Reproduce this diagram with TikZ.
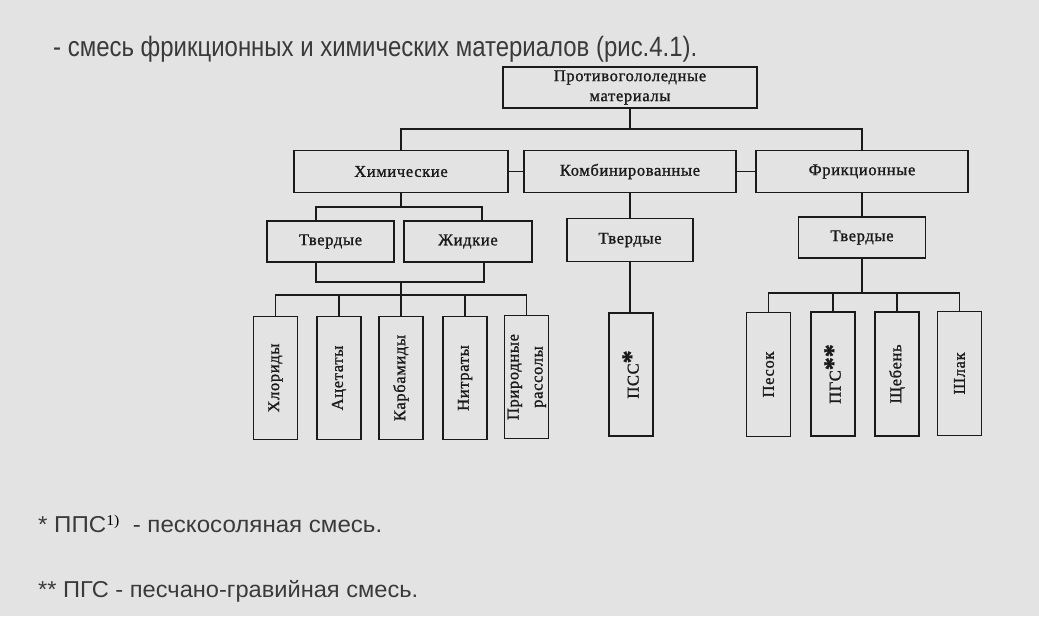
\documentclass[tikz,border=0pt]{standalone}
\usepackage{fontspec}
\setmainfont{Liberation Serif}
\newfontfamily\sansfam{Liberation Sans}
\newfontfamily\diagfam[LetterSpace=4,FakeBold=1.2]{Liberation Serif}
\newcommand\diagfont{\diagfam\fontsize{16.5}{20}\selectfont}
\newcommand\bigast{\raisebox{-1pt}{\fontsize{26}{26}\selectfont\bfseries *}}
\definecolor{bg}{HTML}{E3E3E3}
\definecolor{txt}{HTML}{3A3A3A}
\definecolor{ink}{HTML}{1A1A1A}
\begin{document}
\begin{tikzpicture}[x=1pt,y=-1pt,
  box/.style={draw=ink, line width=1.4pt, inner sep=0pt, text=ink, font=\diagfont, align=center},
  leaf/.style={box, minimum width=44pt, minimum height=123pt},
  link/.style={draw=ink, line width=1.3pt},
  prose/.style={inner sep=0pt, text=txt, anchor=base west}
]
\fill[bg] (0,0) rectangle (1039,616);
\useasboundingbox (0,0) rectangle (1039,616);

% prose
\node[prose] (intro) at (53,56) {\resizebox{644pt}{\height}{\sansfam\fontsize{28}{30}\selectfont - смесь фрикционных и химических материалов (рис.4.1).}};
\node[prose] (note1) at (38,532) {\resizebox{344pt}{\height}{\sansfam\fontsize{23}{26}\selectfont * ППС\raisebox{7pt}{\rmfamily\fontsize{15}{15}\selectfont\color{black}1)}\ \ - пескосоляная смесь.}};
\node[prose] (note2) at (38,597) {\resizebox{380pt}{\height}{\sansfam\fontsize{23}{26}\selectfont ** ПГС - песчано-гравийная смесь.}};

% level 1
\node[box, minimum width=254pt, minimum height=41pt] (top) at (630,87.5) {Противогололедные\\материалы};
% level 2
\node[box, minimum width=214pt, minimum height=42pt] (chem) at (401,171.5) {Химические};
\node[box, minimum width=212pt, minimum height=42pt] (comb) at (630,171.5) {Комбинированные};
\node[box, minimum width=212pt, minimum height=42pt] (fric) at (862,171.5) {Фрикционные};
% level 3
\node[box, minimum width=127pt, minimum height=41pt] (tv1) at (330.5,241.5) {Твердые};
\node[box, minimum width=128pt, minimum height=41pt] (liq) at (468,241.5) {Жидкие};
\node[box, minimum width=126pt, minimum height=43pt] (tv2) at (630,240) {Твердые};
\node[box, minimum width=127pt, minimum height=41pt] (tv3) at (862,237.5) {Твердые};
% leaves
\node[leaf] (l1) at (275.5,378) {\rotatebox{90}{Хлориды}};
\node[leaf] (l2) at (339,378) {\rotatebox{90}{Ацетаты}};
\node[leaf] (l3) at (401,378) {\rotatebox{90}{Карбамиды}};
\node[leaf] (l4) at (465,378) {\rotatebox{90}{Нитраты}};
\node[leaf, minimum width=42pt] (l5) at (526.5,377) {\rotatebox{90}{\begin{tabular}{@{}c@{}}Природные\\[4pt]рассолы\end{tabular}}};
\node[leaf] (psc) at (631,374.5) {\rotatebox{90}{ПСС\bigast}};
\node[leaf, minimum height=124pt] (r1) at (768.5,374.5) {\rotatebox{90}{Песок}};
\node[leaf, minimum height=124pt] (r2) at (833,374) {\rotatebox{90}{ПГС\bigast\bigast}};
\node[leaf, minimum height=124pt] (r3) at (897,374) {\rotatebox{90}{Щебень}};
\node[leaf, minimum height=124pt] (r4) at (959.5,373.5) {\rotatebox{90}{Шлак}};

% bus coordinates
\coordinate (tb) at (630,129);
\coordinate (cb) at (401,207);
\coordinate (cb2) at (401,282);
\coordinate (lb) at (401,295);
\coordinate (rb) at (862,293);

% connectors
\draw[link] (top.south) -- (tb);
\draw[link] (chem.north) |- (tb) -| (fric.north);
\draw[link] (chem.east) -- (comb.west);
\draw[link] (comb.east) -- (fric.west);

\draw[link] (chem.south) -- (cb);
\draw[link] ([xshift=-14.5pt]tv1.north) |- (cb) -| ([xshift=14pt]liq.north);
\draw[link] ([xshift=-14.5pt]tv1.south) |- (cb2) -| ([xshift=16pt]liq.south);
\draw[link] (cb2) -- (lb);
\draw[link] (l1.north) |- (lb) -| (l5.north);
\draw[link] (l2.north) -- (l2.north |- lb);
\draw[link] (l3.north) -- (lb);
\draw[link] (l4.north) -- (l4.north |- lb);

\draw[link] (comb.south) -- (tv2.north);
\draw[link] (tv2.south) -- (tv2.south |- psc.north);

\draw[link] (fric.south) -- (tv3.north);
\draw[link] (tv3.south) -- (rb);
\draw[link] (r1.north) |- (rb) -| (r4.north);
\draw[link] (r2.north) -- (r2.north |- rb);
\draw[link] (r3.north) -- (r3.north |- rb);
\end{tikzpicture}
\end{document}
